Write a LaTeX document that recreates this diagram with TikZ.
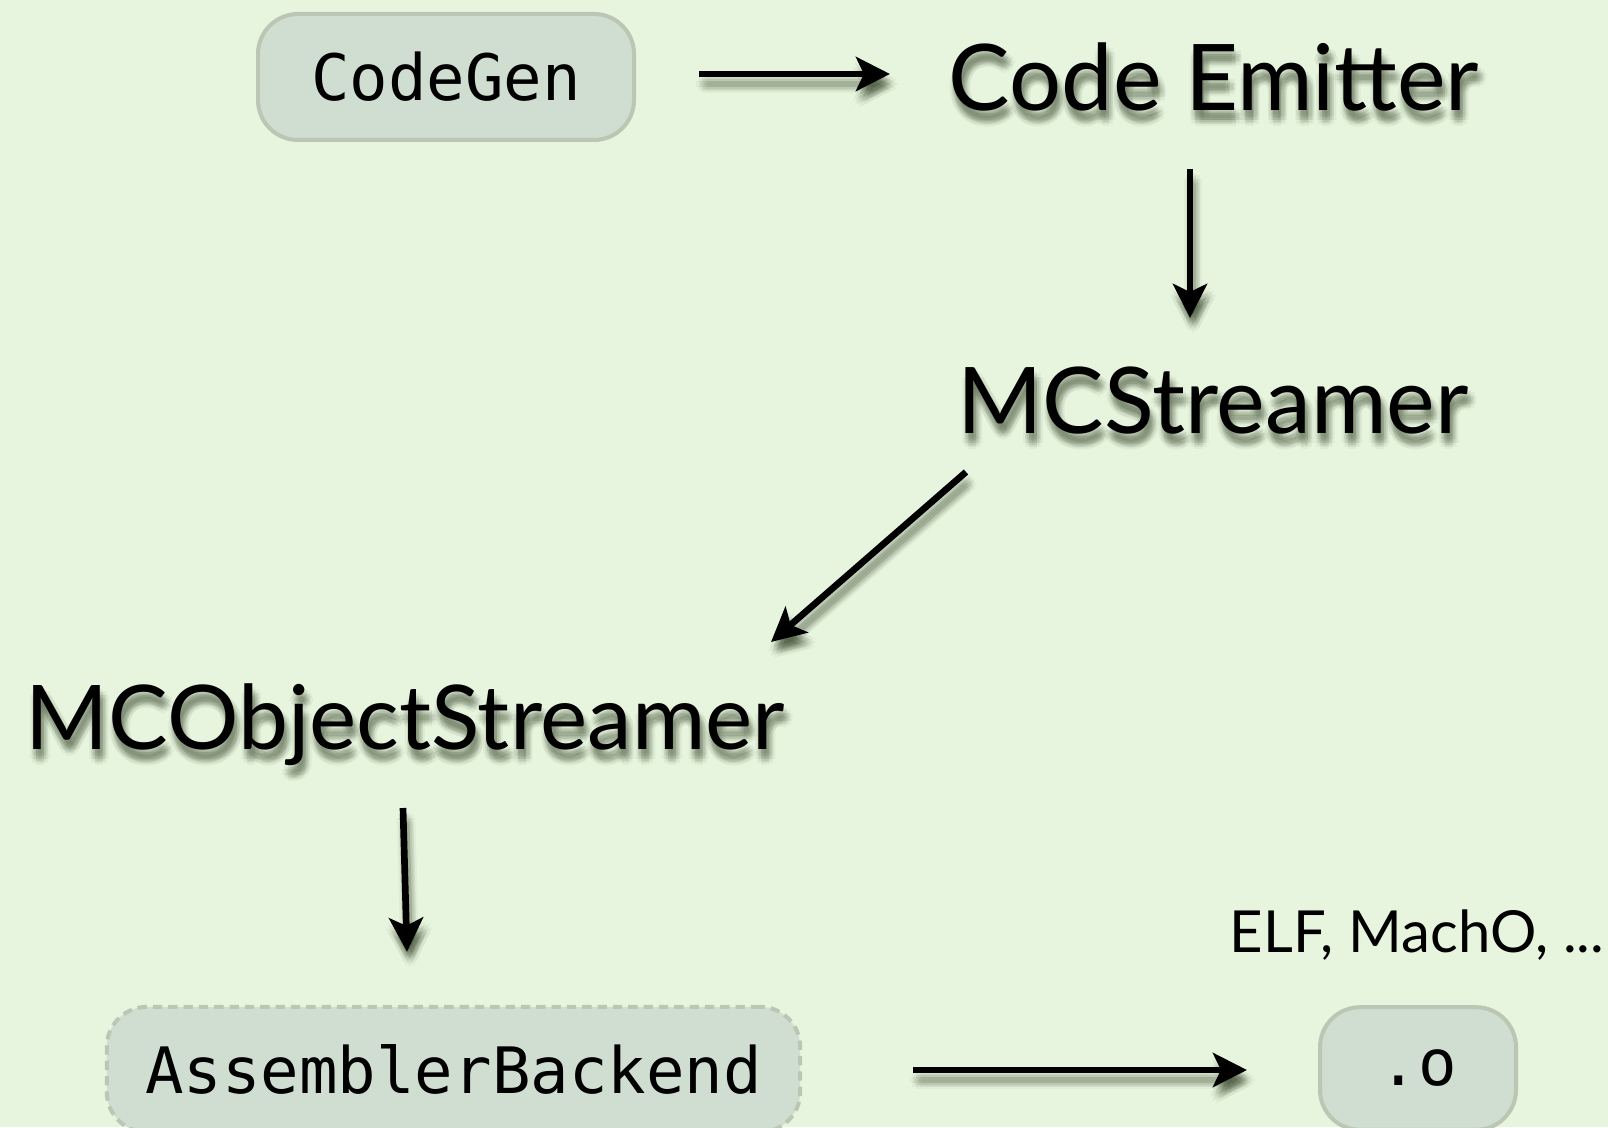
\documentclass[tikz,border=0pt]{standalone}
\usepackage{fontspec}
\setmainfont{Lato}
\newfontfamily\monofont{DejaVu Sans Mono}
\usetikzlibrary{arrows.meta,calc}
\definecolor{bgcol}{RGB}{232,245,222}
\definecolor{boxfill}{RGB}{207,222,208}
\definecolor{boxline}{RGB}{188,198,180}
\definecolor{shadowc}{RGB}{40,55,30}

% offsets (in px) of the faint copies that make up a soft drop shadow
\newcommand\shadowoffsets{3/10,6/10,0/10,3/13,3/7,5/12,1/12,5/8,1/8,9/10,-3/10,3/16,3/4,7/14,-1/14,7/6,-1/6}

% the shadow copies of a text, stacked in one box
\newcommand\shadowstack[1]{%
  \foreach \dx/\dy in \shadowoffsets {%
    \rlap{\hspace*{\dimexpr\dx pt*3/4\relax}\raisebox{\dimexpr-\dy pt*3/4\relax}{#1}}}%
  \phantom{#1}}

\newcommand\shadowlabel[4]{% name, base position, size, text
  \node[lbl, font=\fontsize{#3}{#3}\selectfont, text=shadowc, text opacity=0.05]
    (#1-shadow) at (#2) {\shadowstack{#4}};
  \node[lbl, font=\fontsize{#3}{#3}\selectfont] (#1) at (#2) {#4};
}

\tikzset{
  lbl/.style={inner sep=0pt, anchor=base, text=black},
  box/.style={draw=boxline, line width=3pt, fill=boxfill, rounded corners=30pt,
    inner sep=0pt, font=\monofont\fontsize{48}{56}\selectfont},
  arr/.style={line width=5pt, -{Stealth[length=25.5pt,width=25.5pt,inset=6pt]}},
  arrshadow/.style={arr, draw=shadowc, fill=shadowc, draw opacity=0.04, fill opacity=0.04},
}

\begin{document}
\begin{tikzpicture}[x=0.75pt,y=-0.75pt]
  \useasboundingbox (0,0) rectangle (1608,1127);
  \clip (0,0) rectangle (1608,1127);
  \fill[bgcol] (0,0) rectangle (1608,1127);

  % boxes
  \node[box, minimum width=282pt, minimum height=94.5pt] (cg) at (446,77) {CodeGen};
  \node[box, dashed, dash pattern=on 7pt off 4.5pt,
        minimum width=520pt, minimum height=94pt] (ab) at (453.5,1069.5) {AssemblerBackend};
  \node[box, minimum width=147pt, minimum height=92pt] (obj) at (1418,1068.5) {.o};

  % labels with soft shadows
  \shadowlabel{ce}{1214,111}{69}{Code Emitter}
  \shadowlabel{mcs}{1213,433}{69}{MCStreamer}
  \shadowlabel{mcos}{405.5,749}{67}{MCObjectStreamer}
  \node[lbl, font=\fontsize{43.5}{43.5}\selectfont] (fmt) at (1417,952) {ELF, MachO, ...};

  % connectors (soft shadow first, then the arrow)
  \foreach \dx/\dy in \shadowoffsets {
    \begin{scope}[transform canvas={shift={(\dx,\dy)}}]
      \draw[arrshadow] ($(cg.east)+(63,-3)$) -- ($(ce.base)+(-324,-37)$);
      \draw[arrshadow] ($(ce.base)+(-24,58)$) -- ($(mcs.base)+(-23,-115)$);
      \draw[arrshadow] ($(mcs.base)+(-247,39)$) -- ($(mcos.base)+(365.5,-107)$);
      \draw[arrshadow] ($(mcos.base)+(-2.5,59)$) -- ($(ab.north)+(-46.5,-53)$);
      \draw[arrshadow] ($(ab.east)+(111,0.5)$) -- ($(obj.west)+(-71,1.5)$);
    \end{scope}
  }
  \draw[arr] ($(cg.east)+(63,-3)$) -- ($(ce.base)+(-324,-37)$);
  \draw[arr] ($(ce.base)+(-24,58)$) -- ($(mcs.base)+(-23,-115)$);
  \draw[arr] ($(mcs.base)+(-247,39)$) -- ($(mcos.base)+(365.5,-107)$);
  \draw[arr] ($(mcos.base)+(-2.5,59)$) -- ($(ab.north)+(-46.5,-53)$);
  \draw[arr] ($(ab.east)+(111,0.5)$) -- ($(obj.west)+(-71,1.5)$);
\end{tikzpicture}
\end{document}
